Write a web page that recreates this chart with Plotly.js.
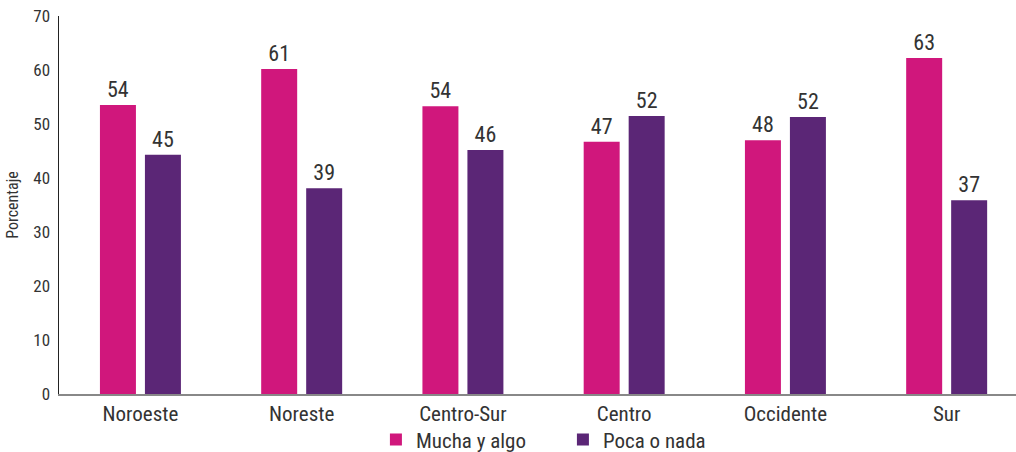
<!DOCTYPE html>
<html>
<head>
<meta charset="utf-8">
<script src="https://cdn.plot.ly/plotly-3.0.1.min.js"></script>
<style>html,body{margin:0;padding:0;background:#fff}#chart{width:1016px;height:452px}</style>
</head>
<body>
<div id="chart"></div>
<script>
var categories = ["Noroeste", "Noreste", "Centro-Sur", "Centro", "Occidente", "Sur"];
var muchaValues = [53.5, 60.2, 53.3, 46.7, 47.0, 62.2];
var pocaValues = [44.3, 38.1, 45.2, 51.5, 51.3, 35.9];
var muchaLabels = ["54", "61", "54", "47", "48", "63"];
var pocaLabels = ["45", "39", "46", "52", "52", "37"];
var yTicks = [0, 10, 20, 30, 40, 50, 60, 70];

var FONT = "'Roboto Condensed', 'Liberation Sans Narrow', 'DejaVu Sans Condensed', Roboto, sans-serif";

var traces = [
  {type: "bar", name: "Mucha y algo", x: categories, y: muchaValues, text: muchaLabels,
   textposition: "outside", cliponaxis: false, texttemplate: "%{text}",
   textfont: {size: 22, color: "#333333", family: FONT},
   marker: {color: "#D0177C"}, hoverinfo: "skip"},
  {type: "bar", name: "Poca o nada", x: categories, y: pocaValues, text: pocaLabels,
   textposition: "outside", cliponaxis: false, texttemplate: "%{text}",
   textfont: {size: 22, color: "#333333", family: FONT},
   marker: {color: "#5B2676"}, hoverinfo: "skip"}
];

var layout = {
  width: 1016, height: 452,
  margin: {l: 59, r: 0, t: 16, b: 58},
  paper_bgcolor: "#fff", plot_bgcolor: "#fff",
  font: {family: FONT, color: "#333333", size: 16},
  barmode: "group", bargap: 0.442, bargroupgap: 0.2,
  showlegend: true,
  legend: {orientation: "h", x: 0.370, xanchor: "left", xref: "container",
           y: 0.027, yanchor: "middle", yref: "container",
           bgcolor: "rgba(0,0,0,0)",
           font: {size: 21, family: FONT, color: "#333333"}, itemwidth: 30,
           entrywidth: 142, entrywidthmode: "pixels", traceorder: "normal"},
  xaxis: {type: "category", range: [-0.505, 5.43], showline: true, linecolor: "#888888", linewidth: 1.5,
          ticks: "", tickfont: {size: 21, family: FONT, color: "#333333"}, showgrid: false, zeroline: false, fixedrange: true},
  yaxis: {range: [0, 70], tickvals: yTicks, showline: true, linecolor: "#222222", linewidth: 1.5,
          ticks: "", ticklen: 0, ticklabelstandoff: 4, tickfont: {size: 17, family: FONT, color: "#333333"}, showgrid: false, zeroline: false,
          title: {text: "Porcentaje", font: {size: 16, family: FONT, color: "#333333"}, standoff: 10}, fixedrange: true}
};

Plotly.newPlot("chart", traces, layout, {displayModeBar: false, staticPlot: true});
</script>
</body>
</html>
